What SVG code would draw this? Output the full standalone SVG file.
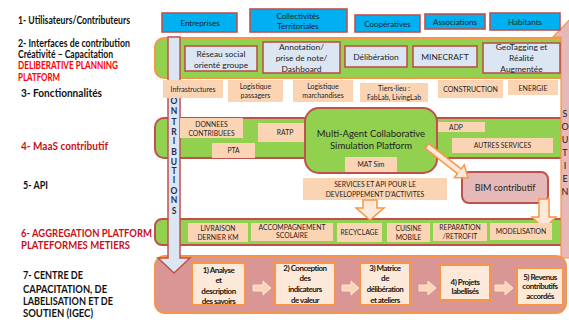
<svg xmlns="http://www.w3.org/2000/svg" width="569" height="320" viewBox="0 0 569 320">
<style>
.lbl{font-family:Lato,"Liberation Sans",sans-serif;font-weight:700;font-size:10.5px;fill:#111}
.red{fill:#FF0000}
.dred{fill:#C8101A}
.t{font-family:Lato,"Liberation Sans",sans-serif;text-anchor:middle;fill:#1e1e1e}
.f8{font-size:8px}
.f85{font-size:8.4px}
.f7{font-size:7px}
.f68{font-size:6.8px}
.blue{fill:#00B0F0;stroke:#C0504D;stroke-width:1.6}
.grey{fill:#DCE6F2;stroke:#C0504D;stroke-width:1.6}
.beige{fill:#FBD4B4}
.green{fill:#92D050}
.step{fill:#FDE9D9;stroke:#F79646;stroke-width:2}
.st{font-family:Lato,"Liberation Sans",sans-serif;font-weight:700;font-size:8px;letter-spacing:-0.5px;text-anchor:middle;fill:#24150b}
.arr{fill:#FDE9D9;stroke:#F79646;stroke-width:1.5}
.sarr{fill:#FCD5B4;stroke:#FFF3EA;stroke-width:0.8}
.vl{font-family:Lato,"Liberation Sans",sans-serif;font-weight:700;font-size:8.5px;fill:#1F2D4F;text-anchor:middle}
.vs{font-family:Lato,"Liberation Sans",sans-serif;font-size:9px;fill:#222;text-anchor:middle}
</style>

<!-- left labels -->
<g id="labels">
<text class="lbl" x="18" y="24" textLength="112" lengthAdjust="spacingAndGlyphs">1- Utilisateurs/Contributeurs</text>
<text class="lbl" x="18" y="47" textLength="112" lengthAdjust="spacingAndGlyphs">2- Interfaces de contribution</text>
<text class="lbl" x="18" y="58" textLength="95" lengthAdjust="spacingAndGlyphs">Créativité –  Capacitation</text>
<text class="lbl red" x="18" y="69" textLength="100" lengthAdjust="spacingAndGlyphs">DELIBERATIVE PLANNING</text>
<text class="lbl red" x="18" y="81" textLength="42" lengthAdjust="spacingAndGlyphs">PLATFORM</text>
<text class="lbl" x="21" y="97" textLength="81" lengthAdjust="spacingAndGlyphs">3- Fonctionnalités</text>
<text class="lbl dred" x="21" y="150" textLength="87" lengthAdjust="spacingAndGlyphs">4- MaaS contributif</text>
<text class="lbl" x="23" y="189" textLength="25" lengthAdjust="spacingAndGlyphs">5- API</text>
<text class="lbl dred" x="21" y="237" textLength="131" lengthAdjust="spacingAndGlyphs">6- AGGREGATION PLATFORM</text>
<text class="lbl dred" x="21" y="249" textLength="109" lengthAdjust="spacingAndGlyphs">PLATEFORMES METIERS</text>
<text class="lbl" x="23" y="279" textLength="60" lengthAdjust="spacingAndGlyphs">7- CENTRE DE</text>
<text class="lbl" x="23" y="293" textLength="84" lengthAdjust="spacingAndGlyphs">CAPACITATION, DE</text>
<text class="lbl" x="23" y="305" textLength="90" lengthAdjust="spacingAndGlyphs">LABELISATION ET DE</text>
<text class="lbl" x="23" y="317" textLength="70" lengthAdjust="spacingAndGlyphs">SOUTIEN (IGEC)</text>
</g>

<!-- bands -->
<g id="bands">
<rect x="155" y="38" width="420" height="40" rx="9" class="green" stroke="#F79646" stroke-width="2"/>
<rect x="155" y="118" width="420" height="40" rx="9" class="green" stroke="#C0504D" stroke-width="2"/>
<rect x="155" y="219" width="420" height="26" rx="7" class="green" stroke="#C0504D" stroke-width="2"/>
</g>

<!-- SOUTIEN arrow -->
<g id="soutien">
<polygon points="561,258 561,37 553,37 575,14 597,37 589,37 589,258" fill="#E6B9B8" stroke="#F79646" stroke-width="1.2"/>
<text class="vs" x="565" y="117">S</text>
<text class="vs" x="565" y="130">O</text>
<text class="vs" x="565" y="143">U</text>
<text class="vs" x="565" y="156">T</text>
<text class="vs" x="565" y="169">I</text>
<text class="vs" x="565" y="182">E</text>
<text class="vs" x="565" y="195">N</text>
</g>

<!-- row 7 band -->
<rect id="band7" x="155" y="256" width="411" height="57" rx="10" fill="#D99694" stroke="#F79646" stroke-width="2"/>

<!-- CONTRIBUTIONS arrow (its first letter is hidden under the Infrastructures box) -->
<g id="contributions">
<polygon points="168,37 180,37 180,258 190,258 174,273 158,258 168,258" fill="#DCE6F2" stroke="#C0504D" stroke-width="1.5"/>
<text class="vl" x="174" y="103.5">O</text>
<text class="vl" x="174" y="113.5">N</text>
<text class="vl" x="174" y="125">T</text>
<text class="vl" x="174" y="134.5">R</text>
<text class="vl" x="174" y="143.5">I</text>
<text class="vl" x="174" y="155">B</text>
<text class="vl" x="174" y="164.5">U</text>
<text class="vl" x="174" y="173.5">T</text>
<text class="vl" x="174" y="182.5">I</text>
<text class="vl" x="174" y="193.5">O</text>
<text class="vl" x="174" y="202.5">N</text>
<text class="vl" x="174" y="213.5">S</text>
</g>

<!-- row 1: users -->
<g id="entreprises"><rect class="blue" x="162" y="13" width="75" height="19"/><text class="t f8" x="200" y="26">Entreprises</text></g>
<g id="collectivites"><rect class="blue" x="250" y="9" width="97" height="23"/><text class="t f8" x="298" y="18.5">Collectivités</text><text class="t f8" x="298" y="28.5">Territoriales</text></g>
<g id="cooperatives"><rect class="blue" x="355" y="15" width="65" height="17"/><text class="t f8" x="387.5" y="26.5">Coopératives</text></g>
<g id="associations"><rect class="blue" x="425" y="14" width="60" height="15"/><text class="t f8" x="455" y="24.5">Associations</text></g>
<g id="habitants"><rect class="blue" x="490" y="13" width="70" height="17"/><text class="t f8" x="525" y="24.5">Habitants</text></g>

<!-- row 2: interfaces -->
<g id="reseau"><rect class="grey" x="185" y="46" width="72" height="25"/><text class="t f85" x="221" y="56.5">Réseau social</text><text class="t f85" x="221" y="67.5">orienté groupe</text></g>
<g id="annotation"><rect class="grey" x="263" y="42" width="77" height="31"/><text class="t f85" x="301.5" y="50">Annotation/</text><text class="t f85" x="301.5" y="61">prise de note/</text><text class="t f85" x="301.5" y="72">Dashboard</text></g>
<g id="deliberation"><rect class="grey" x="345" y="46" width="62" height="21"/><text class="t f85" x="376" y="59.5">Délibération</text></g>
<g id="minecraft"><rect class="grey" x="413" y="46" width="64" height="21"/><text class="t f85" x="445" y="59.5">MINECRAFT</text></g>
<g id="geotagging"><rect class="grey" x="483" y="43" width="77" height="30"/><text class="t f85" x="521.5" y="50">GeoTagging et</text><text class="t f85" x="521.5" y="61">Réalité</text><text class="t f85" x="521.5" y="72">Augmentée</text></g>

<!-- row 3: fonctionnalites -->
<g id="infrastructures"><rect class="beige" x="163" y="80" width="60" height="18"/><text class="t f7" x="193" y="92">Infrastructures</text></g>
<g id="log-passagers"><rect class="beige" x="228" y="80" width="55" height="22"/><text class="t f7" x="255.5" y="88.5">Logistique</text><text class="t f7" x="255.5" y="98">passagers</text></g>
<g id="log-marchandises"><rect class="beige" x="293" y="80" width="60" height="22"/><text class="t f7" x="323" y="88.5">Logistique</text><text class="t f7" x="323" y="98">marchandises</text></g>
<g id="tiers-lieu"><rect class="beige" x="360" y="83" width="68" height="19"/><text class="t f7" x="394" y="90.5">Tiers-lieu :</text><text class="t f7" x="394" y="99.5">FabLab, LivingLab</text></g>
<g id="construction"><rect class="beige" x="438" y="80" width="65" height="18"/><text class="t f7" x="470.5" y="92">CONSTRUCTION</text></g>
<g id="energie"><rect class="beige" x="508" y="80" width="50" height="15"/><text class="t f7" x="533" y="90.5">ENERGIE</text></g>

<!-- row 4: MaaS -->
<g id="donnees"><rect class="beige" x="180" y="118" width="63" height="20"/><text class="t f68" x="211.5" y="127">DONNEES</text><text class="t f68" x="211.5" y="136">CONTRIBUEES</text></g>
<g id="ratp"><rect class="beige" x="258" y="123" width="54" height="19"/><text class="t f68" x="285" y="135">RATP</text></g>
<g id="pta"><rect class="beige" x="212" y="143" width="43" height="15"/><text class="t f68" x="233.5" y="153">PTA</text></g>
<g id="adp"><rect class="beige" x="428" y="122" width="57" height="10"/><text class="t f68" x="456" y="129.5">ADP</text></g>
<g id="autres-services"><rect class="beige" x="452" y="138" width="101" height="15"/><text class="t f68" x="502.5" y="148">AUTRES SERVICES</text></g>
<g id="platform"><rect x="305" y="108" width="132" height="65" rx="14" class="green" stroke="#C0504D" stroke-width="2"/><text class="t" font-size="9.5" x="371" y="137">Multi-Agent Collaborative</text><text class="t" font-size="9.5" x="371" y="148.5">Simulation Platform</text>
<rect class="beige" x="345" y="157" width="52" height="15"/><text class="t f68" x="371" y="167">MAT Sim</text></g>

<!-- row 5: API -->
<g id="services-api"><rect class="beige" x="303" y="178" width="144" height="22"/><text class="t f68" x="375" y="187">SERVICES ET API  POUR LE</text><text class="t f68" x="375" y="197">DEVELOPPEMENT D'ACTIVITES</text></g>
<g id="bim"><rect x="462" y="172" width="86" height="31" rx="7" fill="#E6B9B8" stroke="#C0504D" stroke-width="2"/><text class="t" font-size="9" x="505" y="191">BIM contributif</text></g>

<!-- connectors -->
<g id="connectors">
<polygon class="arr" transform="translate(427,146) rotate(38)" points="0,-3 41,-3 41,-8 52,0 41,8 41,3 0,3"/>
<polygon class="arr" points="363,200 377,200 377,208 384,208 370,220 356,208 363,208"/>
<polygon class="arr" points="539,199 549,199 549,217 556,217 544,229 532,217 539,217"/>
</g>

<!-- row 6: metiers -->
<g id="livraison"><rect class="beige" x="188" y="223" width="60" height="19"/><text class="t f68" x="218" y="230.5">LIVRAISON</text><text class="t f68" x="218" y="239.5">DERNIER KM</text></g>
<g id="accompagnement"><rect class="beige" x="251" y="223" width="82" height="18"/><text class="t f68" x="292" y="229.5">ACCOMPAGNEMENT</text><text class="t f68" x="292" y="238">SCOLAIRE</text></g>
<g id="recyclage"><rect class="beige" x="337" y="223" width="45" height="19"/><text class="t f68" x="359.5" y="235">RECYCLAGE</text></g>
<g id="cuisine"><rect class="beige" x="387" y="223" width="43" height="19"/><text class="t f68" x="408.5" y="230.5">CUISINE</text><text class="t f68" x="408.5" y="240">MOBILE</text></g>
<g id="reparation"><rect class="beige" x="433" y="223" width="54" height="18"/><text class="t f68" x="460" y="229.5">REPARATION</text><text class="t f68" x="460" y="238.5">/RETROFIT</text></g>
<g id="modelisation"><rect class="beige" x="490" y="223" width="62" height="17"/><text class="t f68" x="521" y="234">MODELISATION</text></g>

<!-- row 7: steps -->
<g id="step1"><rect class="step" x="192" y="263" width="53" height="42"/><text class="st" x="218.5" y="273">1) Analyse</text><text class="st" x="218.5" y="283">et</text><text class="st" x="218.5" y="294">description</text><text class="st" x="218.5" y="304">des savoirs</text></g>
<g id="step2"><rect class="step" x="275" y="263" width="60" height="42"/><text class="st" x="305" y="271">2) Conception</text><text class="st" x="305" y="281">des</text><text class="st" x="305" y="292">indicateurs</text><text class="st" x="305" y="303">de valeur</text></g>
<g id="step3"><rect class="step" x="360" y="263" width="50" height="42"/><text class="st" x="385" y="271">3) Matrice</text><text class="st" x="385" y="281">de</text><text class="st" x="385" y="292">délibération</text><text class="st" x="385" y="303">et ateliers</text></g>
<g id="step4"><rect class="step" x="440" y="265" width="50" height="35"/><text class="st" x="465" y="285">4) Projets</text><text class="st" x="465" y="294">labellisés</text></g>
<g id="step5"><rect class="step" x="517" y="268" width="46" height="37"/><text class="st" x="540" y="280">5) Revenus</text><text class="st" x="540" y="289">contributifs</text><text class="st" x="540" y="299">accordés</text></g>
<g id="step-arrows">
<polygon class="sarr" points="253,285 263,285 263,281 271,288 263,295 263,291 253,291"/>
<polygon class="sarr" points="342,285 351,285 351,281 359,288 351,295 351,291 342,291"/>
<polygon class="sarr" points="419,285 428,285 428,281 436,288 428,295 428,291 419,291"/>
<polygon class="sarr" points="495,285 505,285 505,281 513,288 505,295 505,291 495,291"/>
</g>
</svg>
